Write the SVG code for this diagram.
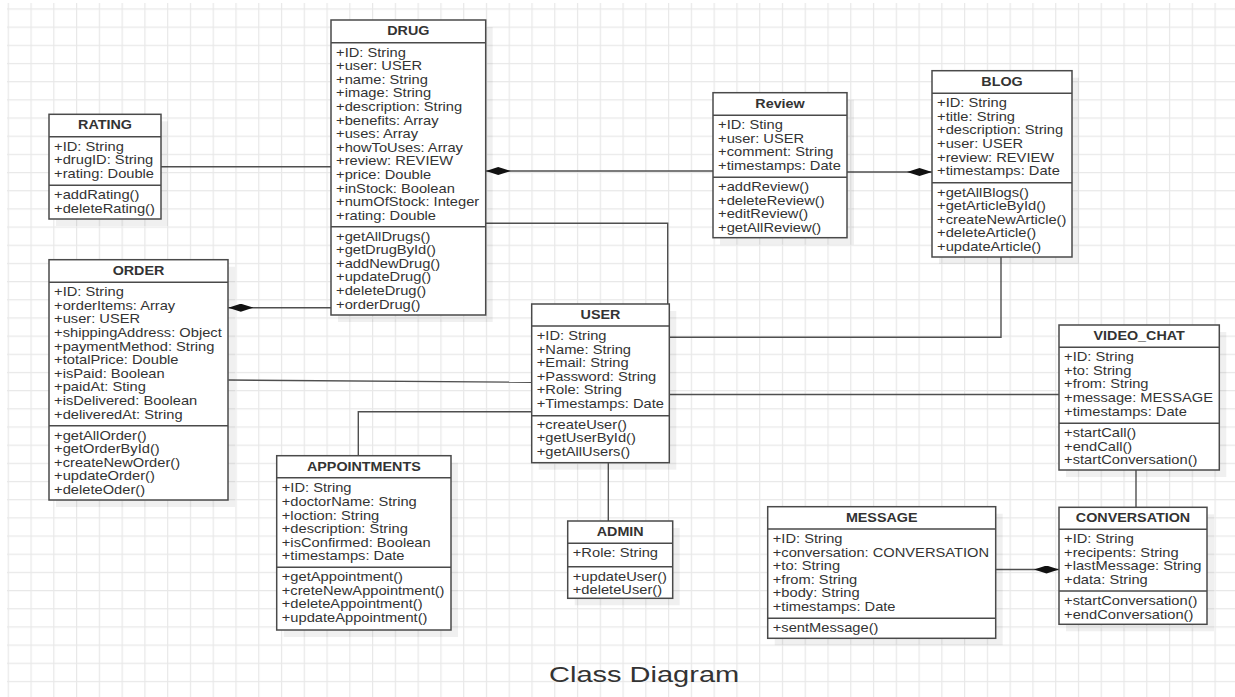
<svg xmlns="http://www.w3.org/2000/svg" width="1235" height="697" viewBox="0 0 1235 697">
<style>
.box{fill:#fff;stroke:#4a4a4a;stroke-width:1.5}
.sh{fill:#000;opacity:.06}
.sep{fill:none;stroke:#4a4a4a;stroke-width:1.5}
.h{font-family:"Liberation Sans",Arial,sans-serif;font-size:12.2px;font-weight:bold;fill:#333;text-anchor:middle}
.a{font-family:"Liberation Sans",Arial,sans-serif;font-size:12.5px;fill:#333}
.c{fill:none;stroke:#4f4f4f;stroke-width:1.4}
.cd{fill:none;stroke:#4f4f4f;stroke-width:1.4;marker-start:url(#dia)}
.title{font-family:"Liberation Sans",Arial,sans-serif;font-size:22.5px;fill:#333}
</style>
<defs>
<pattern id="grid" x="7.7" y="8.4" width="22.77" height="18.175" patternUnits="userSpaceOnUse">
<path d="M0.6 0V18.175M0 0.6H22.77" stroke="#e8e8e8" stroke-width="1.2" fill="none"/>
</pattern>
<marker id="dia" viewBox="0 0 25 8" refX="25" refY="4" markerWidth="25" markerHeight="8" markerUnits="userSpaceOnUse" orient="auto-start-reverse">
<path d="M0 4L12.5 0L25 4L12.5 8Z" fill="#111"/>
</marker>
</defs>
<rect width="1235" height="697" fill="#fff"/>
<rect x="7" y="3" width="1228" height="694" fill="url(#grid)"/>

<g id="connectors">
<path class="c" d="M161 166.7H331"/>
<path class="cd" d="M228.3 307.7H331"/>
<path class="cd" d="M485.7 171H713"/>
<path class="cd" d="M932 172H847"/>
<path class="c" d="M485.7 223.3H667.7V304"/>
<path class="c" d="M1001 257V337.3H669.3"/>
<path class="c" d="M228.3 380L531.7 382.3"/>
<path class="c" d="M531.7 411.7H358.3V455.7"/>
<path class="c" d="M608.3 462.7V521"/>
<path class="c" d="M669.3 394.5H1059"/>
<path class="c" d="M1136 470V507.3"/>
<path class="cd" d="M1059 569.5H995.7"/>
</g>

<g id="rating" transform="translate(49 114.3)">
<rect class="sh" x="7" y="7" width="112" height="104.7"/>
<rect class="box" width="112" height="104.7"/>
<path class="sep" d="M0 22.4H112M0 71H112"/>
<text class="h" transform="translate(56 15) scale(1.175 1)">RATING</text>
<text class="a" transform="translate(5.1 36.4) scale(1.175 1)"><tspan x="0">+ID: String</tspan><tspan x="0" dy="13.6">+drugID: String</tspan><tspan x="0" dy="13.6">+rating: Double</tspan></text>
<text class="a" transform="translate(5.1 85) scale(1.175 1)"><tspan x="0">+addRating()</tspan><tspan x="0" dy="13.6">+deleteRating()</tspan></text>
</g>

<g id="drug" transform="translate(331 20)">
<rect class="sh" x="7" y="7" width="154.7" height="295"/>
<rect class="box" width="154.7" height="295"/>
<path class="sep" d="M0 22.7H154.7M0 206.7H154.7"/>
<text class="h" transform="translate(77.35 15) scale(1.175 1)">DRUG</text>
<text class="a" transform="translate(5.1 36.7) scale(1.175 1)"><tspan x="0">+ID: String</tspan><tspan x="0" dy="13.6">+user: USER</tspan><tspan x="0" dy="13.6">+name: String</tspan><tspan x="0" dy="13.6">+image: String</tspan><tspan x="0" dy="13.6">+description: String</tspan><tspan x="0" dy="13.6">+benefits: Array</tspan><tspan x="0" dy="13.6">+uses: Array</tspan><tspan x="0" dy="13.6">+howToUses: Array</tspan><tspan x="0" dy="13.6">+review: REVIEW</tspan><tspan x="0" dy="13.6">+price: Double</tspan><tspan x="0" dy="13.6">+inStock: Boolean</tspan><tspan x="0" dy="13.6">+numOfStock: Integer</tspan><tspan x="0" dy="13.6">+rating: Double</tspan></text>
<text class="a" transform="translate(5.1 220.7) scale(1.175 1)"><tspan x="0">+getAllDrugs()</tspan><tspan x="0" dy="13.6">+getDrugById()</tspan><tspan x="0" dy="13.6">+addNewDrug()</tspan><tspan x="0" dy="13.6">+updateDrug()</tspan><tspan x="0" dy="13.6">+deleteDrug()</tspan><tspan x="0" dy="13.6">+orderDrug()</tspan></text>
</g>

<g id="order" transform="translate(49 259.7)">
<rect class="sh" x="7" y="7" width="179" height="240.3"/>
<rect class="box" width="179" height="240.3"/>
<path class="sep" d="M0 22.6H179M0 166H179"/>
<text class="h" transform="translate(89.5 15) scale(1.175 1)">ORDER</text>
<text class="a" transform="translate(5.1 36.6) scale(1.175 1)"><tspan x="0">+ID: String</tspan><tspan x="0" dy="13.6">+orderItems: Array</tspan><tspan x="0" dy="13.6">+user: USER</tspan><tspan x="0" dy="13.6">+shippingAddress: Object</tspan><tspan x="0" dy="13.6">+paymentMethod: String</tspan><tspan x="0" dy="13.6">+totalPrice: Double</tspan><tspan x="0" dy="13.6">+isPaid: Boolean</tspan><tspan x="0" dy="13.6">+paidAt: Sting</tspan><tspan x="0" dy="13.6">+isDelivered: Boolean</tspan><tspan x="0" dy="13.6">+deliveredAt: String</tspan></text>
<text class="a" transform="translate(5.1 180) scale(1.175 1)"><tspan x="0">+getAllOrder()</tspan><tspan x="0" dy="13.6">+getOrderById()</tspan><tspan x="0" dy="13.6">+createNewOrder()</tspan><tspan x="0" dy="13.6">+updateOrder()</tspan><tspan x="0" dy="13.6">+deleteOder()</tspan></text>
</g>

<g id="review" transform="translate(713 92.7)">
<rect class="sh" x="7" y="7" width="134" height="145"/>
<rect class="box" width="134" height="145"/>
<path class="sep" d="M0 22.6H134M0 84.6H134"/>
<text class="h" transform="translate(67 15) scale(1.175 1)">Review</text>
<text class="a" transform="translate(5.1 36.6) scale(1.175 1)"><tspan x="0">+ID: Sting</tspan><tspan x="0" dy="13.6">+user: USER</tspan><tspan x="0" dy="13.6">+comment: String</tspan><tspan x="0" dy="13.6">+timestamps: Date</tspan></text>
<text class="a" transform="translate(5.1 98.6) scale(1.175 1)"><tspan x="0">+addReview()</tspan><tspan x="0" dy="13.6">+deleteReview()</tspan><tspan x="0" dy="13.6">+editReview()</tspan><tspan x="0" dy="13.6">+getAllReview()</tspan></text>
</g>

<g id="blog" transform="translate(932 70.7)">
<rect class="sh" x="7" y="7" width="140" height="186.3"/>
<rect class="box" width="140" height="186.3"/>
<path class="sep" d="M0 22.6H140M0 112H140"/>
<text class="h" transform="translate(70 15) scale(1.175 1)">BLOG</text>
<text class="a" transform="translate(5.1 36.6) scale(1.175 1)"><tspan x="0">+ID: String</tspan><tspan x="0" dy="13.6">+title: String</tspan><tspan x="0" dy="13.6">+description: String</tspan><tspan x="0" dy="13.6">+user: USER</tspan><tspan x="0" dy="13.6">+review: REVIEW</tspan><tspan x="0" dy="13.6">+timestamps: Date</tspan></text>
<text class="a" transform="translate(5.1 126) scale(1.175 1)"><tspan x="0">+getAllBlogs()</tspan><tspan x="0" dy="13.6">+getArticleById()</tspan><tspan x="0" dy="13.6">+createNewArticle()</tspan><tspan x="0" dy="13.6">+deleteArticle()</tspan><tspan x="0" dy="13.6">+updateArticle()</tspan></text>
</g>

<g id="user" transform="translate(531.7 304)">
<rect class="sh" x="7" y="7" width="137.6" height="158.7"/>
<rect class="box" width="137.6" height="158.7"/>
<path class="sep" d="M0 22H137.6M0 111.7H137.6"/>
<text class="h" transform="translate(68.8 15) scale(1.175 1)">USER</text>
<text class="a" transform="translate(5.1 36) scale(1.175 1)"><tspan x="0">+ID: String</tspan><tspan x="0" dy="13.6">+Name: String</tspan><tspan x="0" dy="13.6">+Email: String</tspan><tspan x="0" dy="13.6">+Password: String</tspan><tspan x="0" dy="13.6">+Role: String</tspan><tspan x="0" dy="13.6">+Timestamps: Date</tspan></text>
<text class="a" transform="translate(5.1 124.5) scale(1.175 1)"><tspan x="0">+createUser()</tspan><tspan x="0" dy="13.6">+getUserById()</tspan><tspan x="0" dy="13.6">+getAllUsers()</tspan></text>
</g>

<g id="admin" transform="translate(567.7 521)">
<rect class="sh" x="7" y="7" width="105" height="77.3"/>
<rect class="box" width="105" height="77.3"/>
<path class="sep" d="M0 22.3H105M0 45.7H105"/>
<text class="h" transform="translate(52.5 15) scale(1.175 1)">ADMIN</text>
<text class="a" transform="translate(5.1 36.3) scale(1.175 1)"><tspan x="0">+Role: String</tspan></text>
<text class="a" transform="translate(5.1 59.7) scale(1.175 1)"><tspan x="0">+updateUser()</tspan><tspan x="0" dy="13.6">+deleteUser()</tspan></text>
</g>

<g id="appointments" transform="translate(276.7 455.7)">
<rect class="sh" x="7" y="7" width="174.3" height="174.3"/>
<rect class="box" width="174.3" height="174.3"/>
<path class="sep" d="M0 22H174.3M0 111.6H174.3"/>
<text class="h" transform="translate(87.15 15) scale(1.175 1)">APPOINTMENTS</text>
<text class="a" transform="translate(5.1 36.7) scale(1.175 1)"><tspan x="0">+ID: String</tspan><tspan x="0" dy="13.6">+doctorName: String</tspan><tspan x="0" dy="13.6">+loction: String</tspan><tspan x="0" dy="13.6">+description: String</tspan><tspan x="0" dy="13.6">+isConfirmed: Boolean</tspan><tspan x="0" dy="13.6">+timestamps: Date</tspan></text>
<text class="a" transform="translate(5.1 125.3) scale(1.175 1)"><tspan x="0">+getAppointment()</tspan><tspan x="0" dy="13.6">+creteNewAppointment()</tspan><tspan x="0" dy="13.6">+deleteAppointment()</tspan><tspan x="0" dy="13.6">+updateAppointment()</tspan></text>
</g>

<g id="video_chat" transform="translate(1059 325)">
<rect class="sh" x="7" y="7" width="160.3" height="145"/>
<rect class="box" width="160.3" height="145"/>
<path class="sep" d="M0 22.3H160.3M0 98.3H160.3"/>
<text class="h" transform="translate(80.15 15) scale(1.175 1)">VIDEO_CHAT</text>
<text class="a" transform="translate(5.1 36.3) scale(1.175 1)"><tspan x="0">+ID: String</tspan><tspan x="0" dy="13.6">+to: String</tspan><tspan x="0" dy="13.6">+from: String</tspan><tspan x="0" dy="13.6">+message: MESSAGE</tspan><tspan x="0" dy="13.6">+timestamps: Date</tspan></text>
<text class="a" transform="translate(5.1 112.3) scale(1.175 1)"><tspan x="0">+startCall()</tspan><tspan x="0" dy="13.6">+endCall()</tspan><tspan x="0" dy="13.6">+startConversation()</tspan></text>
</g>

<g id="conversation" transform="translate(1059 507.3)">
<rect class="sh" x="7" y="7" width="148" height="117"/>
<rect class="box" width="148" height="117"/>
<path class="sep" d="M0 22H148M0 83.7H148"/>
<text class="h" transform="translate(74 15) scale(1.175 1)">CONVERSATION</text>
<text class="a" transform="translate(5.1 36) scale(1.175 1)"><tspan x="0">+ID: String</tspan><tspan x="0" dy="13.6">+recipents: String</tspan><tspan x="0" dy="13.6">+lastMessage: String</tspan><tspan x="0" dy="13.6">+data: String</tspan></text>
<text class="a" transform="translate(5.1 97.7) scale(1.175 1)"><tspan x="0">+startConversation()</tspan><tspan x="0" dy="13.6">+endConversation()</tspan></text>
</g>

<g id="message" transform="translate(767.7 506.7)">
<rect class="sh" x="7" y="7" width="228" height="131.6"/>
<rect class="box" width="228" height="131.6"/>
<path class="sep" d="M0 22.3H228M0 111.6H228"/>
<text class="h" transform="translate(114 15) scale(1.175 1)">MESSAGE</text>
<text class="a" transform="translate(5.1 36.3) scale(1.175 1)"><tspan x="0">+ID: String</tspan><tspan x="0" dy="13.6">+conversation: CONVERSATION</tspan><tspan x="0" dy="13.6">+to: String</tspan><tspan x="0" dy="13.6">+from: String</tspan><tspan x="0" dy="13.6">+body: String</tspan><tspan x="0" dy="13.6">+timestamps: Date</tspan></text>
<text class="a" transform="translate(5.1 125.6) scale(1.175 1)"><tspan x="0">+sentMessage()</tspan></text>
</g>

<text class="title" transform="translate(549 681.7) scale(1.29 1)">Class Diagram</text>
</svg>
